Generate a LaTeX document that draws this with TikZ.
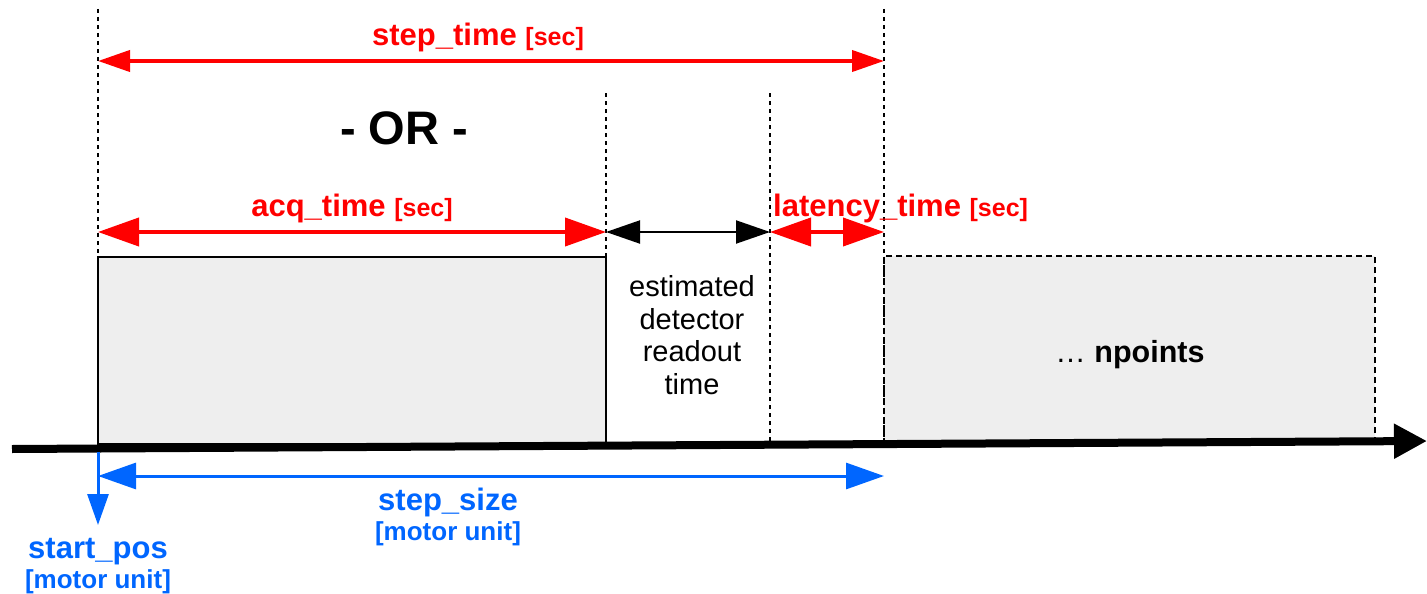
\documentclass[tikz,border=0pt]{standalone}
\usepackage{fontspec}
\setmainfont{Liberation Sans}
\usetikzlibrary{arrows.meta}
\definecolor{scanred}{HTML}{FF0000}
\definecolor{scanblue}{HTML}{0066FF}
\definecolor{slotgray}{HTML}{EEEEEE}

\begin{document}
\begin{tikzpicture}[x=1pt, y=-1pt,
    guide/.style={draw=black, line width=2pt, dash pattern=on 4pt off 4pt},
    slot/.style={draw=black, fill=slotgray, line width=2pt, inner sep=0pt},
    timearrow/.style={{Triangle[length=41pt,width=28pt]}-{Triangle[length=41pt,width=28pt]}, line width=4pt, color=scanred},
    readarrow/.style={{Triangle[length=34pt,width=23pt]}-{Triangle[length=34pt,width=23pt]}, line width=2pt, color=black},
    posarrow/.style={-{Triangle[length=31pt,width=21pt]}, line width=3pt, color=scanblue},
    sizearrow/.style={{Triangle[length=38pt,width=26pt]}-{Triangle[length=38pt,width=26pt]}, line width=3pt, color=scanblue},
    redlabel/.style={anchor=base, inner sep=0pt, text=scanred, font=\fontsize{31}{36}\selectfont\bfseries},
    bluelabel/.style={anchor=base, inner sep=0pt, text=scanblue, font=\fontsize{31}{36}\selectfont\bfseries},
    unitlabel/.style={anchor=base, inner sep=0pt, text=scanblue, font=\fontsize{26}{30}\selectfont\bfseries}
]
\useasboundingbox (0,0) rectangle (1427,594);

% boxes
\node[slot, minimum width=508pt, minimum height=187pt] (acq) at (352,350.5) {};
\node[slot, dash pattern=on 6pt off 4pt, minimum width=491pt, minimum height=186pt] (npts) at (1129.5,349) {};
\node[anchor=base, inner sep=0pt, font=\fontsize{30.5}{36}\selectfont] (ntext) at (1130,362) {\dots\ \textbf{npoints}};

% guide lines
\coordinate (g0t) at (98,9);    \coordinate (g0b) at (98,444);
\coordinate (g1t) at (606,93);  \coordinate (g1b) at (606,444);
\coordinate (g2t) at (770,93);  \coordinate (g2b) at (770,441);
\coordinate (g3t) at (884,9);   \coordinate (g3b) at (884,442);
\draw[guide] (g0t) -- (g0b);
\draw[guide] (g1t) -- (g1b);
\draw[guide] (g2t) -- (g2b);
\draw[guide] (g3t) -- (g3b);

% axis
\coordinate (ax0) at (12,449);
\coordinate (ax1) at (1427,441);
\draw[-{Triangle[length=33pt,width=33pt]}, line width=8pt] (ax0) -- (ax1);

% time arrows
\coordinate (st0) at (98,61);   \coordinate (st1) at (884,61);
\coordinate (t0) at (98,232);   \coordinate (t1) at (606,232);
\coordinate (t2) at (770,232);  \coordinate (t3) at (884,232);
\draw[timearrow, {Triangle[length=32pt,width=21pt]}-{Triangle[length=32pt,width=21pt]}] (st0) -- (st1);
\draw[timearrow] (t0) -- (t1);
\draw[readarrow] (t1) -- (t2);
\draw[timearrow] (t2) -- (t3);

\node[redlabel] (steptime) at (478,46) {step\_time {\fontsize{25}{30}\selectfont [sec]}};
\node[anchor=base, inner sep=0pt, font=\fontsize{47}{54}\selectfont\bfseries] (or) at (404,144) {- OR -};
\node[redlabel] (acqtime) at (352,216) {acq\_time {\fontsize{25}{30}\selectfont [sec]}};
\node[redlabel, anchor=base west] (latency) at (773,216) {latency\_time {\fontsize{25}{30}\selectfont [sec]}};
\node[align=center, inner sep=0pt, font=\fontsize{29}{32.5}\selectfont] (readout) at (692,335)
    {estimated\\detector\\readout\\time};

% position arrows
\coordinate (p0) at (98,452);   \coordinate (p1) at (98,525);
\coordinate (s0) at (98,476);   \coordinate (s1) at (884,476);
\draw[posarrow] (p0) -- (p1);
\draw[sizearrow] (s0) -- (s1);

\node[bluelabel] (stepsize) at (448,510) {step\_size};
\node[unitlabel] (stepunit) at (448,540) {[motor unit]};
\node[bluelabel] (startpos) at (98,558) {start\_pos};
\node[unitlabel] (startunit) at (98,588) {[motor unit]};

\end{tikzpicture}
\end{document}
